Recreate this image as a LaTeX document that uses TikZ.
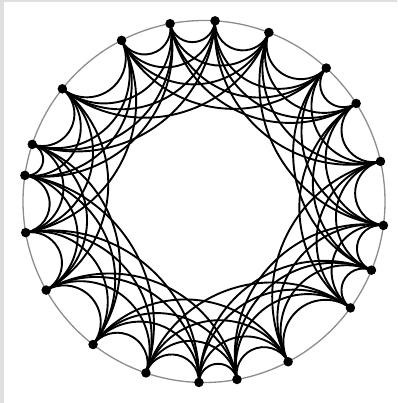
\documentclass[tikz,border=0pt]{standalone}
\begin{document}
\begin{tikzpicture}[x=1pt,y=1pt,
  bnd/.style={draw=black!45, line width=1.3pt},
  edge/.style={draw=black, line width=1.9pt},
  dot/.style={circle, fill=black, inner sep=0pt, minimum size=9.5pt}]
\def\R{181}
\def\angs{{-170.1,-150.7,-127.8,-108.7,-91.6,-79.5,-62.3,-36.0,-22.3,-7.6,12.8,32.8,47.5,69.0,86.5,100.8,117.1,141.5,161.6,171.7}}
\useasboundingbox (-204,-201.5) rectangle (193,201.5);
\fill[gray!25] (-204,-201.5) rectangle (-200,201.5);
\fill[gray!25] (-204,199.5) rectangle (193,201.5);
\draw[bnd] (0,0) circle[radius=\R];
\foreach \i in {0,...,19}{
  \pgfmathsetmacro\t{\angs[\i]}
  \coordinate (p\i) at (\t:\R);
}
\foreach \i in {0,...,19}{
  \foreach \k in {1,...,4}{
    \pgfmathtruncatemacro\j{mod(\i+\k,20)}
    \pgfmathsetmacro\b{\angs[\i]}
    \pgfmathsetmacro\a{\angs[\j]+(\i+\k>19)*360}
    \pgfmathsetmacro\h{(\a-\b)/2}
    \pgfmathsetmacro\r{\R*tan(\h)}
    \pgfmathsetmacro\sa{\a+90}
    \pgfmathsetmacro\ea{\b+270}
    \draw[edge] (p\j) arc[start angle=\sa, end angle=\ea, radius=\r];
  }
}
\foreach \i in {0,...,19} \node[dot] (n\i) at (p\i) {};
\end{tikzpicture}
\end{document}
